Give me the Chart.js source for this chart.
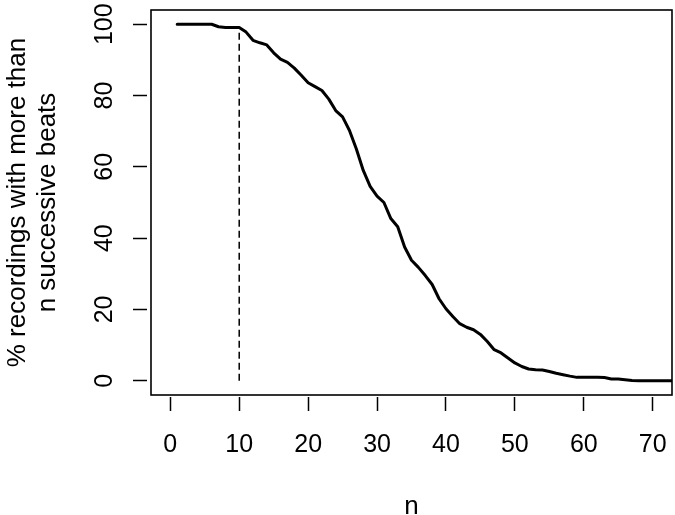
<!DOCTYPE html>
<html>
<head>
<meta charset="utf-8">
<script src="https://cdn.jsdelivr.net/npm/chart.js@4/dist/chart.umd.min.js"></script>
<style>
  html, body { margin: 0; padding: 0; background: #fff; }
  #wrap { width: 675px; height: 515px; }
</style>
</head>
<body>
<div id="wrap"><canvas id="beatsChart" width="675" height="515"></canvas></div>
<script>
// values (n successive beats -> % of recordings)
const nValues = [1, 2, 3, 4, 5, 6, 7, 8, 9, 10,
  11, 12, 13, 14, 15, 16, 17, 18, 19, 20,
  21, 22, 23, 24, 25, 26, 27, 28, 29, 30,
  31, 32, 33, 34, 35, 36, 37, 38, 39, 40,
  41, 42, 43, 44, 45, 46, 47, 48, 49, 50,
  51, 52, 53, 54, 55, 56, 57, 58, 59, 60,
  61, 62, 63, 64, 65, 66, 67, 68, 69, 70,
  71, 72, 73];
const pctValues = [100, 100, 100, 100, 100, 100, 99.3, 99.1, 99.1, 99.1,
  97.8, 95.5, 94.8, 94.2, 92, 90.2, 89.3, 87.7, 85.7, 83.6,
  82.5, 81.4, 79, 75.8, 74, 70.2, 65, 59, 54.5, 51.8,
  50, 45.5, 43.2, 37.5, 33.8, 31.8, 29.5, 27, 23, 20.2,
  18, 16, 15, 14.3, 13, 11, 8.7, 7.8, 6.4, 5,
  4, 3.3, 3.1, 3, 2.6, 2.1, 1.7, 1.3, 0.95, 0.95,
  0.95, 0.95, 0.9, 0.5, 0.5, 0.3, 0.1, 0, 0, 0,
  0, 0, 0];

// vertical dashed cutoff at n = 10
const cutoffN = [10, 10];
const cutoffPct = [0, 99];

const xTicks = [0, 10, 20, 30, 40, 50, 60, 70];
const yTicks = [0, 20, 40, 60, 80, 100];

const fontFamily = "'Liberation Sans', Arial, Helvetica, sans-serif";

// draws the closed box round the plot area, like R's box()
const boxPlugin = {
    id: "plotBox",
    afterDatasetsDraw(chart) {
        const a = chart.chartArea;
        const ctx = chart.ctx;
        ctx.save();
        ctx.strokeStyle = "#000";
        ctx.lineWidth = 1.6;
        ctx.strokeRect(a.left, a.top, a.right - a.left, a.bottom - a.top);
        ctx.restore();
    }
};

const ctx = document.getElementById("beatsChart").getContext("2d");
new Chart(ctx, {
    type: "line",
    data: {
        datasets: [{
            data: nValues.map((n, i) => ({ x: n, y: pctValues[i] })),
            borderColor: "#000",
            borderWidth: 3,
            pointRadius: 0,
            tension: 0,
            borderCapStyle: "round",
            borderJoinStyle: "round"
        }, {
            data: cutoffN.map((n, i) => ({ x: n, y: cutoffPct[i] })),
            borderColor: "#000",
            borderWidth: 1.5,
            borderDash: [7, 4],
            pointRadius: 0
        }]
    },
    options: {
        responsive: false,
        animation: false,
        layout: { padding: { top: 10, right: 3, bottom: 0, left: 0 } },
        plugins: {
            legend: { display: false },
            tooltip: { enabled: false }
        },
        scales: {
            x: {
                type: "linear",
                min: -2.8,
                max: 72.8,
                afterBuildTicks: scale => { scale.ticks = xTicks.map(v => ({ value: v })); },
                afterFit: scale => {
                    scale.height = 120;
                    scale.paddingLeft = 0;
                    scale.paddingRight = 0;
                },
                border: { display: false },
                grid: {
                    drawOnChartArea: false,
                    drawTicks: true,
                    tickLength: 16,
                    tickColor: "#000",
                    tickWidth: 1.5,
                    tickBorderDash: [0, 2, 14, 100]
                },
                ticks: {
                    color: "#000",
                    padding: 19,
                    maxRotation: 0,
                    font: { family: fontFamily, size: 25 }
                },
                title: {
                    display: true,
                    text: "n",
                    color: "#000",
                    padding: { top: 0, bottom: -7 },
                    font: { family: fontFamily, size: 26 }
                }
            },
            y: {
                type: "linear",
                min: -4,
                max: 104,
                afterBuildTicks: scale => { scale.ticks = yTicks.map(v => ({ value: v })); },
                afterFit: scale => {
                    scale.width = 151;
                    scale.paddingTop = 0;
                    scale.paddingBottom = 0;
                },
                border: { display: false },
                grid: {
                    drawOnChartArea: false,
                    drawTicks: true,
                    tickLength: 18,
                    tickColor: "#000",
                    tickWidth: 1.5,
                    tickBorderDash: [14, 100]
                },
                ticks: {
                    color: "#000",
                    padding: 7,
                    minRotation: 90,
                    maxRotation: 90,
                    crossAlign: "center",
                    font: { family: fontFamily, size: 25 }
                },
                title: {
                    display: true,
                    text: ["% recordings with more than", "n successive beats"],
                    color: "#000",
                    padding: { top: 3, bottom: 0 },
                    font: { family: fontFamily, size: 26, lineHeight: 1.15 }
                }
            }
        }
    },
    plugins: [boxPlugin]
});
</script>
</body>
</html>
